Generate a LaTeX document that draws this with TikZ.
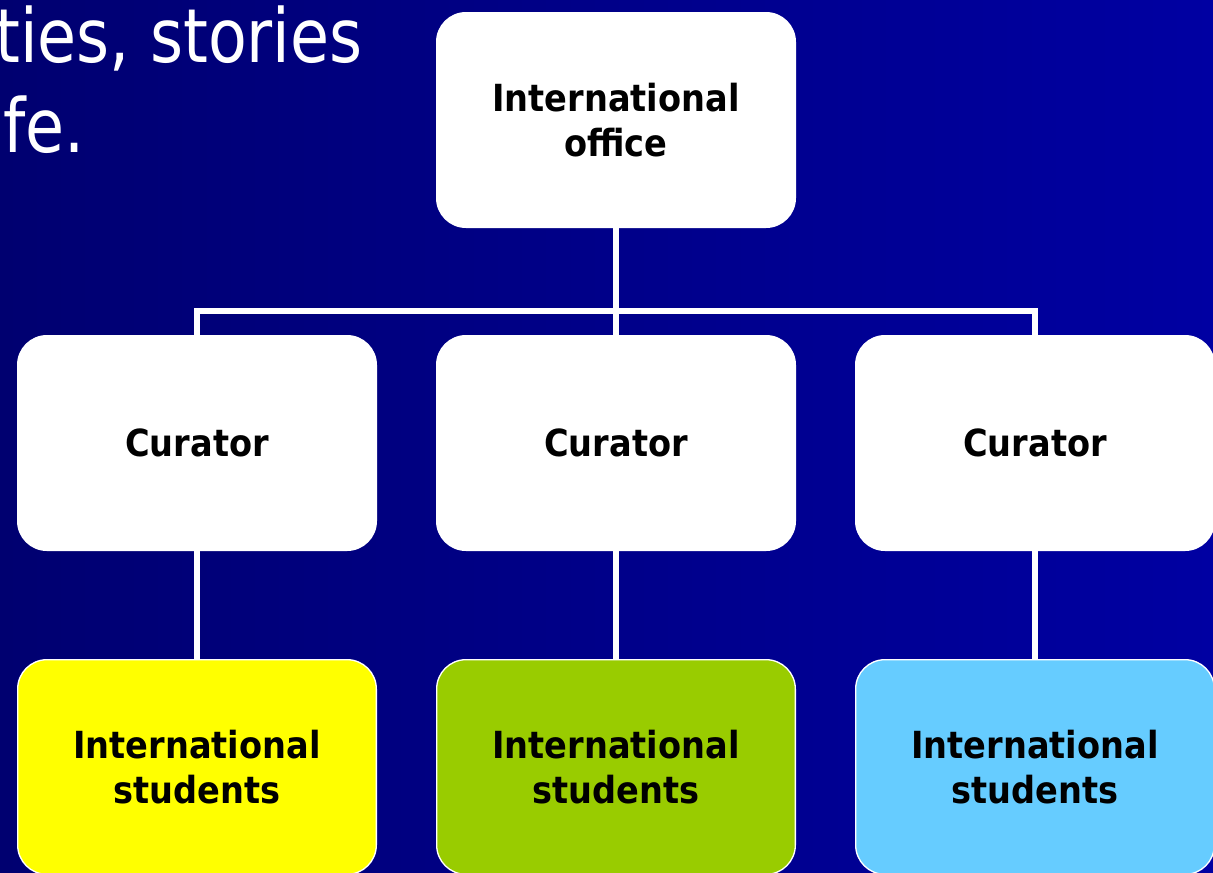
\documentclass[tikz,border=0pt]{standalone}
\usepackage{fontspec}
\setmainfont{DejaVu Sans}
\newfontfamily\boxfont{DejaVu Sans}[FakeStretch=0.9]
\newfontfamily\titlefont{DejaVu Sans}[FakeStretch=0.85]
\definecolor{bgL}{RGB}{0,0,112}
\definecolor{bgR}{RGB}{0,0,162}
\definecolor{stYellow}{RGB}{255,255,0}
\definecolor{stGreen}{RGB}{153,204,0}
\definecolor{stBlue}{RGB}{102,204,255}
\tikzset{
  orgbox/.style={draw=white, line width=1pt, fill=white, rounded corners=22pt,
    minimum width=269pt, minimum height=161pt, align=center, text=black,
    font=\boxfont\bfseries\fontsize{28}{34}\selectfont, inner sep=0pt},
  conn/.style={draw=white, line width=3.8pt},
  title/.style={text=white, font=\titlefont\fontsize{56}{68}\selectfont, inner sep=0pt}
}
\begin{document}
\begin{tikzpicture}[x=0.75pt,y=-0.75pt]
\useasboundingbox (0,0) rectangle (1213,872);
\clip (0,0) rectangle (1213,872);
\shade[left color=bgL, right color=bgR] (0,0) rectangle (1213,872);

\node[title, anchor=base east] (t1) at (363,62) {ties, stories};
\node[title, anchor=base west] (t2) at (3,152) {fe.};

\node[orgbox] (io) at (616,120) {International\\office};
\node[orgbox] (c1) at (197,443) {Curator};
\node[orgbox] (c2) at (616,443) {Curator};
\node[orgbox] (c3) at (1035,443) {Curator};
\node[orgbox, fill=stYellow] (s1) at (197,767) {International\\students};
\node[orgbox, fill=stGreen] (s2) at (616,767) {International\\students};
\node[orgbox, fill=stBlue] (s3) at (1035,767) {International\\students};

\coordinate (j) at (616,311);
\draw[conn] (io.south) -- (c2.north);
\draw[conn] (c1.north) -- (c1.north |- j) -- (c3.north |- j) -- (c3.north);
\draw[conn] (c1.south) -- (s1.north);
\draw[conn] (c2.south) -- (s2.north);
\draw[conn] (c3.south) -- (s3.north);
\end{tikzpicture}
\end{document}
